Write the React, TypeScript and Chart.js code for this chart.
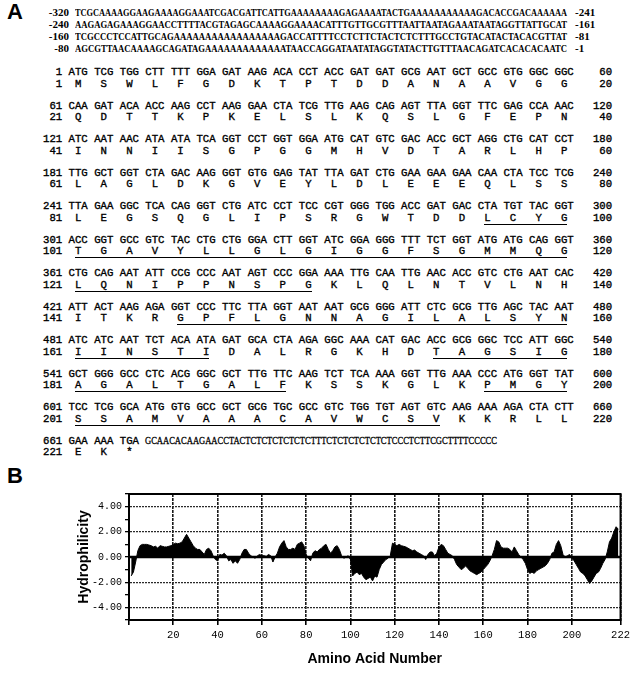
import React, { useEffect, useLayoutEffect, useRef } from 'react';
import { Chart, registerables } from 'chart.js';

Chart.register(...registerables);

// ---------------- data ----------------
const UPSTREAM_START = ['-320', '-240', '-160', '-80'];
const UPSTREAM_END = ['-241', '-161', '-81', '-1'];
const UPSTREAM_SEQ = [
  'TCGCAAAAGGAAGAAAAGGAAATCGACGATTCATTGAAAAAAAAGAGAAAATACTGAAAAAAAAAAAGACACCGACAAAAAA',
  'AAGAGAGAAAGGAACCTTTTACGTAGAGCAAAAGGAAAACATTTGTTGCGTTTAATTAATAGAAATAATAGGTTATTGCAT',
  'TCGCCCTCCATTGCAGAAAAAAAAAAAAAAAAAGACCATTTTCCTCTTCTACTCTCTTTGCCTGTACATACTACACGTTAT',
  'AGCGTTAACAAAAGCAGATAGAAAAAAAAAAAAATAACCAGGATAATATAGGTATACTTGTTTAACAGATCACACACAATC',
];

const NT_START = [1, 61, 121, 181, 241, 301, 361, 421, 481, 541, 601, 661];
const NT_END = [60, 120, 180, 240, 300, 360, 420, 480, 540, 600, 660];
const AA_START = [1, 21, 41, 61, 81, 101, 121, 141, 161, 181, 201, 221];
const AA_END = [20, 40, 60, 80, 100, 120, 140, 160, 180, 200, 220];

const CODON_ROWS = [
  'ATG TCG TGG CTT TTT GGA GAT AAG ACA CCT ACC GAT GAT GCG AAT GCT GCC GTG GGC GGC',
  'CAA GAT ACA ACC AAG CCT AAG GAA CTA TCG TTG AAG CAG AGT TTA GGT TTC GAG CCA AAC',
  'ATC AAT AAC ATA ATA TCA GGT CCT GGT GGA ATG CAT GTC GAC ACC GCT AGG CTG CAT CCT',
  'TTG GCT GGT CTA GAC AAG GGT GTG GAG TAT TTA GAT CTG GAA GAA GAA CAA CTA TCC TCG',
  'TTA GAA GGC TCA CAG GGT CTG ATC CCT TCC CGT GGG TGG ACC GAT GAC CTA TGT TAC GGT',
  'ACC GGT GCC GTC TAC CTG CTG GGA CTT GGT ATC GGA GGG TTT TCT GGT ATG ATG CAG GGT',
  'CTG CAG AAT ATT CCG CCC AAT AGT CCC GGA AAA TTG CAA TTG AAC ACC GTC CTG AAT CAC',
  'ATT ACT AAG AGA GGT CCC TTC TTA GGT AAT AAT GCG GGG ATT CTC GCG TTG AGC TAC AAT',
  'ATC ATC AAT TCT ACA ATA GAT GCA CTA AGA GGC AAA CAT GAC ACC GCG GGC TCC ATT GGC',
  'GCT GGG GCC CTC ACG GGC GCT TTG TTC AAG TCT TCA AAA GGT TTG AAA CCC ATG GGT TAT',
  'TCC TCG GCA ATG GTG GCC GCT GCG TGC GCC GTC TGG TGT AGT GTC AAG AAA AGA CTA CTT',
  'GAA AAA TGA',
];
const TAIL_3UTR = 'GCAACACAAGAACCTACTCTCTCTCTCTCTTTCTCTCTCTCTCTCCCTCTTCGCTTTTCCCCC';

const AA_ROWS = [
  'MSWLFGDKTPTDDANAAVGG',
  'QDTTKPKELSLKQSLGFEPN',
  'INNIISGPGGMHVDTARLHP',
  'LAGLDKGVEYLDLEEEQLSS',
  'LEGSQGLIPSRGWTDDLCYG',
  'TGAVYLLGLGIGGFSGMMQG',
  'LQNIPPNSPGKLQLNTVLNH',
  'ITKRGPFLGNNAGILALSYN',
  'IINSTIDALRGKHDTAGSIG',
  'AGALTGALFKSSKGLKPMGY',
  'SSAMVAAACAVWCSVKKRLL',
  'EK*',
];

// underlined residue ranges (inclusive)
const UNDERLINED: [number, number][] = [
  [97, 120], [121, 130], [145, 160], [161, 166], [175, 180],
  [181, 189], [197, 200], [201, 215],
];

// hydrophilicity profile, residues 1..221
const HYDRO = [
  -1.5, -1.2, -0.4, 0.5, 0.9, 1.0, 1.0, 1.0, 0.95, 0.9,
  0.8, 0.85, 0.7, 0.9, 0.85, 0.8, 0.8, 0.85, 0.9, 1.0,
  1.1, 1.05, 1.1, 1.2, 1.5, 1.8, 1.5, 1.2, 0.9, 0.7,
  0.6, 0.6, 0.4, 0.2, 0.6, 0.7, 0.5, 0.1, -0.2, -0.3,
  0.2, 0.15, 0.3, 0.1, -0.3, -0.2, -0.5, -0.3, -0.5, -0.2,
  0.3, 0.6, 0.6, 0.3, 0.1, 0.0, -0.1, 0.1, 0.2, 0.1,
  0.1, 0.05, 0.2, 0.1, -0.4, 0.0, 0.3, 0.8, 1.1, 1.3,
  0.8, 0.6, 0.6, 0.7, 0.6, 1.0, 1.1, 1.2, 0.9, 0.2,
  -0.1, -0.3, 0.3, 0.5, 0.4, 0.6, 0.7, 0.9, 1.0, 0.6,
  0.3, 0.5, 0.8, 0.9, 0.6, 0.1, -0.1, 0.0, 0.1, -0.2,
  -1.5, -1.3, -1.2, -1.4, -1.3, -1.6, -1.8, -1.7, -1.6, -1.9,
  -1.5, -1.6, -1.0, -0.6, -0.4, -0.2, -0.1, 0.1, 1.1, 1.0,
  0.9, 1.0, 0.9, 0.85, 0.8, 0.7, 0.6, 0.5, 0.55, 0.4,
  0.3, 0.2, 0.1, -0.2, 0.2, 0.4, 0.4, 0.1, 0.3, 0.8,
  1.0, 0.9, 0.6, 0.3, 0.2, 0.1, -0.2, -0.6, -0.8, -1.0,
  -0.9, -0.7, -0.9, -1.1, -1.2, -1.3, -1.4, -1.3, -1.2, -1.0,
  -0.8, -0.6, -0.3, 0.1, 0.6, 1.3, 1.2, 0.8, 0.7, 0.7,
  0.7, 0.6, 0.4, 0.8, 0.5, 0.2, 0.0, -0.2, -0.5, -1.0,
  -1.3, -1.2, -1.3, -1.1, -1.0, -0.9, -0.8, -0.7, -0.5, -0.2,
  0.3, 0.4, 1.0, 1.3, 0.9, 0.2, 0.0, 0.1, 0.2, -0.1,
  -0.3, -0.6, -0.9, -1.2, -1.3, -1.5, -1.8, -2.1, -1.9, -1.6,
  -1.3, -1.2, -0.9, -0.5, -0.2, 0.4, 1.2, 1.5, 2.0, 2.4,
  2.2,
];
const Y_TICKS = [-4, -2, 0, 2, 4];

// ---------------- layout ----------------
const MONO = '"Liberation Mono", "DejaVu Sans Mono", monospace';
const SERIF = '"Liberation Serif", "DejaVu Serif", serif';
const SANS = '"Liberation Sans", Arial, sans-serif';
const CHAR_W = 6.4;
const MONO_SIZE = CHAR_W / 0.6;
const ROW_X = 43;
const UP_Y = [12, 24, 36, 48];
const ROW0_Y = 72;
const PAIR_DY = 33.5;
const AA_DY = 11.5;
const CHART_TOP = 470;
const CHART_H = 222;

function FitText({ text, width, style }: { text: string; width: number; style?: React.CSSProperties }) {
  const ref = useRef<HTMLSpanElement>(null);
  useLayoutEffect(() => {
    const el = ref.current;
    if (!el) return;
    el.style.transform = 'none';
    const w = el.getBoundingClientRect().width;
    if (w > 0) el.style.transform = `scaleX(${width / w})`;
  }, [text, width]);
  return (
    <span ref={ref} style={{ display: 'inline-block', whiteSpace: 'pre', transformOrigin: '0 0', ...style }}>
      {text}
    </span>
  );
}

function Row({ y, x, children, style }: { y: number; x: number; children: React.ReactNode; style?: React.CSSProperties }) {
  return (
    <div
      style={{
        position: 'absolute', left: x, top: y - 6, height: 12, lineHeight: '12px',
        whiteSpace: 'pre', fontFamily: MONO, fontSize: MONO_SIZE, color: '#000',
        WebkitTextStroke: '0.35px #000', ...style,
      }}
    >
      {children}
    </div>
  );
}

function aaRowNodes(start: number, letters: string, rightNum?: number) {
  const prefix = String(start).padStart(3) + ' ';
  const body = letters.split('').map((l) => ' ' + l + '  ').join('');
  let s = prefix + body;
  if (rightNum !== undefined) s = (prefix + body.replace(/\s+$/, '')).padEnd(83) + String(rightNum).padStart(6);
  const mask = s.split('').map(() => false);
  const n = letters.length;
  for (const [a, b] of UNDERLINED) {
    const lo = Math.max(a, start);
    const hi = Math.min(b, start + n - 1);
    if (lo > hi) continue;
    const c0 = 4 + 4 * (lo - start) + 1;
    const c1 = 4 + 4 * (hi - start) + 1;
    for (let c = c0; c <= c1; c++) mask[c] = true;
  }
  const nodes: React.ReactNode[] = [];
  let i = 0;
  let k = 0;
  while (i < s.length) {
    let j = i;
    while (j < s.length && mask[j] === mask[i]) j++;
    const piece = s.slice(i, j);
    if (mask[i]) {
      nodes.push(
        <span key={k++} style={{ borderBottom: '1.5px solid #000', paddingBottom: 0 }}>{piece}</span>
      );
    } else nodes.push(<span key={k++}>{piece}</span>);
    i = j;
  }
  return nodes;
}

const framePlugin = {
  id: 'frame',
  beforeDatasetsDraw(chart: any) {
    const { ctx, chartArea, scales } = chart;
    const y0 = scales.y.getPixelForValue(0);
    ctx.save();
    ctx.strokeStyle = '#000';
    ctx.lineWidth = 2.5;
    ctx.beginPath();
    ctx.moveTo(chartArea.left, y0);
    ctx.lineTo(chartArea.right, y0);
    ctx.stroke();
    ctx.restore();
  },
  afterDatasetsDraw(chart: any) {
    const { ctx, chartArea } = chart;
    const { left, top, right, bottom } = chartArea;
    ctx.save();
    ctx.strokeStyle = '#000';
    ctx.lineWidth = 2;
    ctx.strokeRect(left, top, right - left, bottom - top);
    ctx.restore();
  },
};

function HydroChart() {
  const ref = useRef<HTMLCanvasElement>(null);
  useEffect(() => {
    const canvas = ref.current;
    if (!canvas) return;
    const PAD_LEFT = 72;
    const PLOT_LEFT = 129;
    const PLOT_TOP = 24;
    const PLOT_BOTTOM = 150;
    const PAD_BOTTOM = 20;
    const chart = new Chart(canvas, {
      type: 'line',
      data: {
        datasets: [
          {
            data: HYDRO.map((v, i) => ({ x: i + 1, y: v })),
            borderColor: '#000',
            backgroundColor: '#000',
            borderWidth: 1,
            pointRadius: 0,
            fill: 'origin',
            tension: 0,
          },
        ],
      },
      options: {
        animation: false,
        responsive: false,
        maintainAspectRatio: false,
        layout: { padding: { left: PAD_LEFT, right: 8, top: PLOT_TOP, bottom: PAD_BOTTOM } },
        plugins: { legend: { display: false }, tooltip: { enabled: false } },
        scales: {
          x: {
            type: 'linear',
            min: 0,
            max: 222,
            afterFit: (s: any) => { s.height = CHART_H - PAD_BOTTOM - PLOT_BOTTOM; },
            ticks: {
              stepSize: 20,
              autoSkip: false,
              maxRotation: 0,
              color: '#000',
              padding: 4,
              font: { family: MONO, size: 10.5 },
              callback: (v: any) => (Number(v) === 0 ? '' : String(v)),
            },
            grid: {
              color: (c: any) => (c.tick && c.tick.value === 0 ? 'rgba(0,0,0,0)' : '#1a1a1a'),
              lineWidth: 1.6,
              tickLength: 5,
              tickColor: '#000',
            },
            border: { display: true, color: '#000', width: 2, dash: [3, 1] },
            title: {
              display: true,
              text: 'Amino Acid Number',
              color: '#000',
              font: { family: SANS, size: 14, weight: 'bold' },
            },
          },
          y: {
            min: -5,
            max: 5,
            afterFit: (s: any) => { s.width = PLOT_LEFT - PAD_LEFT; },
            ticks: {
              stepSize: 1,
              autoSkip: false,
              color: '#000',
              padding: 3,
              font: { family: MONO, size: 10 },
              callback: (v: any) => (Y_TICKS.includes(Number(v)) ? Number(v).toFixed(2) : ''),
            },
            grid: {
              color: (c: any) => {
                const v = c.tick ? c.tick.value : NaN;
                return Y_TICKS.includes(v) && v !== 0 ? '#2a2a2a' : 'rgba(0,0,0,0)';
              },
              lineWidth: 1.3,
              tickLength: 4,
              tickColor: '#000',
            },
            border: { display: true, color: '#000', width: 2, dash: [2, 1] },
            title: {
              display: true,
              text: 'Hydrophilicity',
              color: '#000',
              font: { family: SANS, size: 14, weight: 'bold' },
            },
          },
        },
      },
      plugins: [framePlugin],
    } as any);
    return () => chart.destroy();
  }, []);
  return (
    <canvas
      ref={ref}
      width={634}
      height={CHART_H}
      style={{ position: 'absolute', left: 0, top: CHART_TOP, width: 634, height: CHART_H }}
    />
  );
}

const UP_STYLE: React.CSSProperties = {
  position: 'absolute', lineHeight: '12px', fontFamily: SERIF, fontWeight: 'bold', fontSize: 11,
};

export default function App() {
  const upRows = UPSTREAM_SEQ.map((seq, i) => (
    <React.Fragment key={'u' + i}>
      <div style={{ ...UP_STYLE, left: 20, width: 49, top: UP_Y[i] - 6, textAlign: 'right' }}>
        {UPSTREAM_START[i]}
      </div>
      <div style={{ ...UP_STYLE, left: 75, top: UP_Y[i] - 6 }}>
        <FitText text={seq} width={492} />
      </div>
      <div style={{ ...UP_STYLE, left: 575, top: UP_Y[i] - 6 }}>
        {UPSTREAM_END[i]}
      </div>
    </React.Fragment>
  ));

  const codingRows = CODON_ROWS.map((codons, i) => {
    const y = ROW0_Y + PAIR_DY * i;
    const left = String(NT_START[i]).padStart(3) + ' ';
    const isLast = i === CODON_ROWS.length - 1;
    const ntText = isLast ? left + codons + ' ' : (left + codons).padEnd(83) + String(NT_END[i]).padStart(6);
    return (
      <React.Fragment key={'c' + i}>
        <Row x={ROW_X} y={y}>{ntText}</Row>
        {isLast && (
          <div style={{ ...UP_STYLE, left: ROW_X + CHAR_W * 16, top: y - 6, fontWeight: 'normal', fontSize: 10.5, WebkitTextStroke: '0.3px #000' }}>
            <FitText text={TAIL_3UTR} width={352} />
          </div>
        )}
        <Row x={ROW_X} y={y + AA_DY}>
          {aaRowNodes(AA_START[i], AA_ROWS[i], isLast ? undefined : AA_END[i])}
        </Row>
      </React.Fragment>
    );
  });

  return (
    <div style={{ position: 'absolute', left: 0, top: 0, width: 634, height: 692, background: '#fff', overflow: 'hidden' }}>
      <div style={{ position: 'absolute', left: 7, top: 0, fontFamily: SANS, fontWeight: 900, fontSize: 22, lineHeight: '24px' }}>A</div>
      {upRows}
      {codingRows}
      <div style={{ position: 'absolute', left: 7, top: 464, fontFamily: SANS, fontWeight: 900, fontSize: 22, lineHeight: '24px' }}>B</div>
      <HydroChart />
    </div>
  );
}
